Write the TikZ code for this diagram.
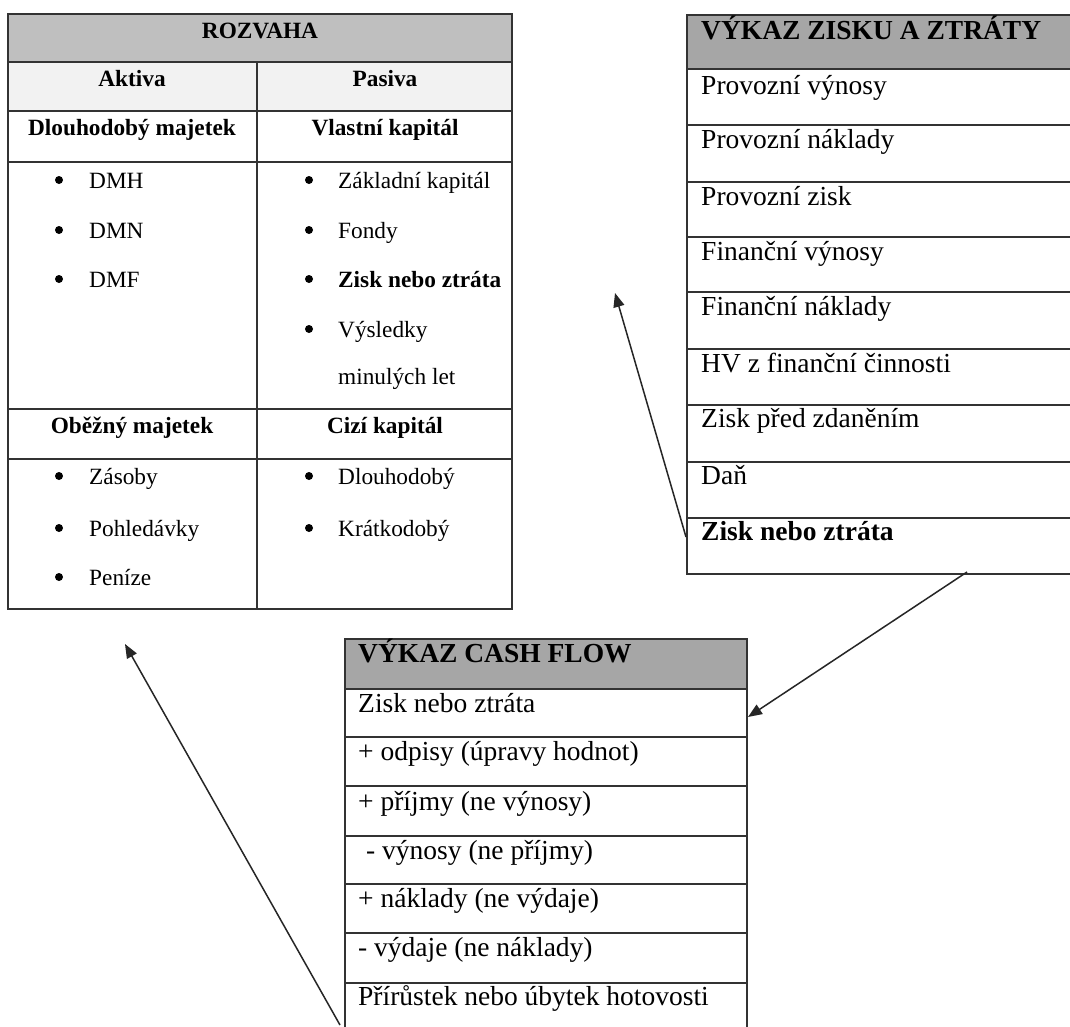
\documentclass[tikz,border=0pt]{standalone}
\usepackage{fontspec}
\setmainfont{Liberation Serif}
\usetikzlibrary{arrows.meta,calc}
\definecolor{hdrA}{HTML}{BFBFBF}
\definecolor{hdrB}{HTML}{A6A6A6}
\definecolor{subhdr}{HTML}{F2F2F2}
\begin{document}
\begin{tikzpicture}[x=1pt,y=-1pt,
  tl/.style={font=\fontsize{23.3}{28}\selectfont, inner sep=0pt, anchor=base},
  tlw/.style={font=\fontsize{23.3}{28}\selectfont, inner sep=0pt, anchor=base west},
  tr/.style={font=\fontsize{27.5}{32}\selectfont, inner sep=0pt, anchor=base west},
  bul/.style={circle, fill=black, inner sep=0pt, minimum size=8pt},
  cell/.style={draw=black!80, line width=1.4pt, inner sep=0pt, outer sep=0pt, anchor=north west},
  conn/.style={draw=black!85, line width=1.5pt, -{Triangle[length=14pt,width=11pt]}}
]
\useasboundingbox (0,0) rectangle (1070,1026);
\clip (0,0) rectangle (1070,1026);
\fill[white] (0,0) rectangle (1070,1026);

% ---------- ROZVAHA ----------
\node[cell, fill=hdrA, minimum width=504pt, minimum height=48pt] (rzH) at (8,14) {};
\node[cell, fill=subhdr, minimum width=249pt, minimum height=49pt] (rzA) at (8,62) {};
\node[cell, fill=subhdr, minimum width=255pt, minimum height=49pt] (rzP) at (257,62) {};
\node[cell, minimum width=249pt, minimum height=51pt] (rzDM) at (8,111) {};
\node[cell, minimum width=255pt, minimum height=51pt] (rzVK) at (257,111) {};
\node[cell, minimum width=249pt, minimum height=247pt] (rzDMl) at (8,162) {};
\node[cell, minimum width=255pt, minimum height=247pt] (rzVKl) at (257,162) {};
\node[cell, minimum width=249pt, minimum height=50pt] (rzOM) at (8,409) {};
\node[cell, minimum width=255pt, minimum height=50pt] (rzCK) at (257,409) {};
\node[cell, minimum width=249pt, minimum height=150pt] (rzOMl) at (8,459) {};
\node[cell, minimum width=255pt, minimum height=150pt] (rzCKl) at (257,459) {};

\node[tl, font=\fontsize{23.3}{28}\selectfont\bfseries] (tRZ) at (260,38) {ROZVAHA};
\node[tl, font=\fontsize{23.3}{28}\selectfont\bfseries] (tAk) at (132,86) {Aktiva};
\node[tl, font=\fontsize{23.3}{28}\selectfont\bfseries] (tPa) at (385,86) {Pasiva};
\node[tl, font=\fontsize{23.3}{28}\selectfont\bfseries] (tDM) at (132,135) {Dlouhodobý majetek};
\node[tl, font=\fontsize{23.3}{28}\selectfont\bfseries] (tVK) at (385,135) {Vlastní kapitál};
\node[tl, font=\fontsize{23.3}{28}\selectfont\bfseries] (tOM) at (132,433) {Oběžný majetek};
\node[tl, font=\fontsize{23.3}{28}\selectfont\bfseries] (tCK) at (385,433) {Cizí kapitál};

% bullets left
\foreach \y/\t/\n in {188/DMH/a, 238/DMN/b, 287/DMF/c, 484/Zásoby/d, 536/Pohledávky/e, 585/Peníze/f}{
  \node[bul] (bl\n) at (59,\y-8) {};
  \node[tlw] (tl\n) at (89,\y) {\t};
}
% bullets right
\foreach \y/\t/\n in {188/Základní kapitál/a, 238/Fondy/b, 337/Výsledky/d, 484/Dlouhodobý/e, 536/Krátkodobý/f}{
  \node[bul] (br\n) at (309,\y-8) {};
  \node[tlw] (tr\n) at (338,\y) {\t};
}
\node[bul] (brc) at (309,279) {};
\node[tlw, font=\fontsize{23.3}{28}\selectfont\bfseries] (trc) at (338,287) {Zisk nebo ztráta};
\node[tlw] (trg) at (338,384) {minulých let};

% ---------- VYKAZ ZISKU A ZTRATY ----------
\node[cell, fill=hdrB, minimum width=400pt, minimum height=54pt] (vzH) at (687,15) {};
\foreach \top/\h/\n in {69/56/1, 125/57/2, 182/55/3, 237/55/4, 292/57/5, 349/56/6, 405/57/7, 462/56/8, 518/56/9}{
  \node[cell, minimum width=400pt, minimum height=\h pt] (vz\n) at (687,\top) {};
}
\node[tr, font=\fontsize{27.5}{32}\selectfont\bfseries] (tVZ) at (701,39) {VÝKAZ ZISKU A ZTRÁTY};
\foreach \y/\t/\n in {94/Provozní výnosy/1, 148/Provozní náklady/2, 205/Provozní zisk/3, 260/Finanční výnosy/4, 315/Finanční náklady/5, 372/HV z finanční činnosti/6, 427/Zisk před zdaněním/7, 484/Daň/8}{
  \node[tr] (tvz\n) at (701,\y) {\t};
}
\node[tr, font=\fontsize{27.5}{32}\selectfont\bfseries] (tvz9) at (701,540) {Zisk nebo ztráta};

% ---------- VYKAZ CASH FLOW ----------
\node[cell, fill=hdrB, minimum width=402pt, minimum height=50pt] (cfH) at (345,639) {};
\foreach \top/\h/\n in {689/48/1, 737/49/2, 786/50/3, 836/48/4, 884/49/5, 933/50/6, 983/60/7}{
  \node[cell, minimum width=402pt, minimum height=\h pt] (cf\n) at (345,\top) {};
}
\node[tr, font=\fontsize{27.5}{32}\selectfont\bfseries] (tCF) at (358,662) {VÝKAZ CASH FLOW};
\node[tr] (tcf1) at (358,712) {Zisk nebo ztráta};
\node[tr] (tcf2) at (358,760) {+ odpisy (úpravy hodnot)};
\node[tr] (tcf3) at (358,810) {+ příjmy (ne výnosy)};
\node[tr] (tcf4) at (366,859) {- výnosy (ne příjmy)};
\node[tr] (tcf5) at (358,907) {+ náklady (ne výdaje)};
\node[tr] (tcf6) at (358,956) {- výdaje (ne náklady)};
\node[tr] (tcf7) at (358,1005) {Přírůstek nebo úbytek hotovosti};

% ---------- connectors ----------
\coordinate (a1s) at ($(vz9.north west)+(-1,19)$);
\coordinate (a1e) at (615,293);
\coordinate (a2s) at ($(vz9.south west)+(280,-2)$);
\coordinate (a2e) at ($(cf1.east)+(1,4)$);
\coordinate (a3s) at (340,1025);
\coordinate (a3e) at (125,644);
\draw[conn] (a1s) -- (a1e);
\draw[conn] (a2s) -- (a2e);
\draw[conn] (a3s) -- (a3e);
\end{tikzpicture}
\end{document}
